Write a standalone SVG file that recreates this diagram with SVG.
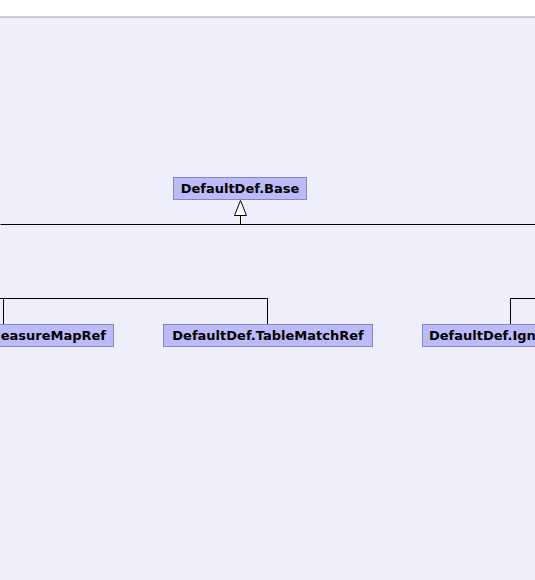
<svg xmlns="http://www.w3.org/2000/svg" width="535" height="580" viewBox="0 0 535 580">
<style>
.node rect{fill:#bbbbf9;stroke:#8585c4;stroke-width:1}
.node text{font-family:"DejaVu Sans",sans-serif;font-weight:bold;font-size:13px;fill:#000;text-anchor:middle}
.conn{fill:none;stroke:#000;stroke-width:1}
</style>
<rect x="0" y="0" width="535" height="580" fill="#ffffff"/>
<rect x="0" y="17" width="535" height="563" fill="#eeeefc"/>
<line x1="0" y1="17" x2="535" y2="17" stroke="#a0a0ac" stroke-width="1"/>
<g id="connectors">
<path class="conn" d="M0.5 224.5H535M240.5 224.5V215.5"/>
<polygon points="240.5,200.5 234.5,215.5 246.5,215.5" fill="#ffffff" stroke="#000" stroke-width="1"/>
<path class="conn" d="M0 298.5H267.5V324M3.5 298.5V324"/>
<path class="conn" d="M535 298.5H510.5V324"/>
</g>
<g id="base" class="node">
<rect x="173.5" y="177.5" width="133" height="22"/>
<text x="240" y="193">DefaultDef.Base</text>
</g>
<g id="measuremapref" class="node">
<rect x="-100.5" y="324.5" width="214" height="22"/>
<text x="106" y="340" style="text-anchor:end">DefaultDef.MeasureMapRef</text>
</g>
<g id="tablematchref" class="node">
<rect x="163.5" y="324.5" width="209" height="22"/>
<text x="268" y="340">DefaultDef.TableMatchRef</text>
</g>
<g id="ignore" class="node">
<rect x="422.5" y="324.5" width="180" height="22"/>
<text x="429" y="340" style="text-anchor:start">DefaultDef.Ignore</text>
</g>
</svg>
